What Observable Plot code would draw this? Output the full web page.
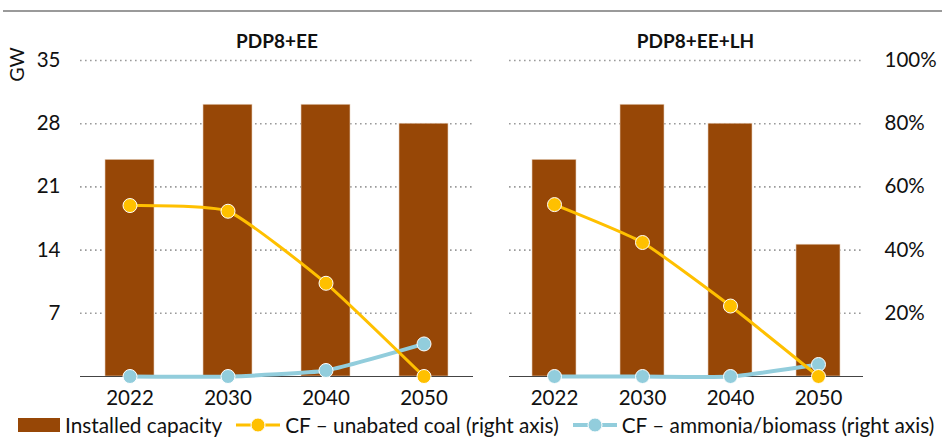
<!DOCTYPE html>
<html><head><meta charset="utf-8">
<script src="https://cdn.jsdelivr.net/npm/d3@7"></script>
<script src="https://cdn.jsdelivr.net/npm/@observablehq/plot@0.6"></script>
<style>
body{margin:0;background:#fff;font-family:Lato,"Open Sans",sans-serif;}
#wrap{position:relative;width:942px;height:438px;overflow:hidden;background:#fff;}
#topline{position:absolute;left:3px;top:10px;width:939px;height:2px;background:#9a9a9a;}
.panel{position:absolute;top:0;}
#legend{position:absolute;left:18px;top:413px;height:24px;display:flex;align-items:center;font-size:20.8px;line-height:22px;color:#111;white-space:nowrap;}
#legend .item{display:flex;align-items:center;}
#legend svg{display:block;}
</style></head><body>
<div id="wrap">
  <div id="topline"></div>
  <div id="p1" class="panel" style="left:0"></div>
  <div id="p2" class="panel" style="left:480px"></div>
  <div id="legend">
    <div class="item"><svg width="42" height="14"><rect x="0" y="0" width="42" height="14" fill="#974706"></rect></svg><span style="margin-left:5px">Installed capacity</span></div>
    <div class="item" style="margin-left:14px"><svg width="44" height="16"><line x1="0" x2="44" y1="8" y2="8" stroke="#FFC000" stroke-width="3"></line><circle cx="22" cy="8" r="7" fill="#FFC000" stroke="#fff" stroke-width="1"></circle></svg><span style="margin-left:5px">CF – unabated coal (right axis)</span></div>
    <div class="item" style="margin-left:14px"><svg width="44" height="16"><line x1="0" x2="44" y1="8" y2="8" stroke="#92CDDC" stroke-width="4"></line><circle cx="22" cy="8" r="7" fill="#92CDDC" stroke="#fff" stroke-width="1"></circle></svg><span style="margin-left:5px">CF – ammonia/biomass (right axis)</span></div>
  </div>
</div>
<script>
const years = ["2022", "2030", "2040", "2050"];
const scenarios = ["PDP8+EE", "PDP8+EE+LH"];
// Installed capacity (GW, left axis)
const capacityEE = [24.0, 30.1, 30.1, 28.0];
const capacityLH = [24.0, 30.1, 28.0, 14.6];
// Capacity factor, unabated coal (% , right axis)
const cfCoalEE = [54.1, 52.3, 29.5, 0];
const cfCoalLH = [54.4, 42.4, 22.3, 0];
// Capacity factor, ammonia/biomass (% , right axis)
const cfAmmEE = [0, 0, 1.9, 10.3];
const cfAmmLH = [0, 0, 0, 3.8];
// Tick labels
const gwTicks = [7, 14, 21, 28, 35];
const pctTicks = [20, 40, 60, 80, 100];

const GW_MAX = 35, PCT_MAX = 100;
const pctToGW = p => p * GW_MAX / PCT_MAX;

const BROWN = "#974706", GOLD = "#FFC000", TEAL = "#92CDDC";
const FONT = "Lato, 'Open Sans', sans-serif";
const SMOOTH = d3.curveCardinal.tension(0.5);

function panel({title, cap, coal, amm, width, marginLeft, marginRight, leftAxis, rightAxis, titleDx}) {
  const bars = years.map((y, i) => ({year: y, gw: cap[i]}));
  const coalD = years.map((y, i) => ({year: y, v: pctToGW(coal[i])}));
  const ammD = years.map((y, i) => ({year: y, v: pctToGW(amm[i])}));
  const marks = [
    Plot.ruleY(gwTicks, {stroke: "#9a9a9a", strokeWidth: 1.6, strokeDasharray: "1.6,3.4"}),
    Plot.barY(bars, {x: "year", y: "gw", fill: BROWN, stroke: "#e8d2bf", strokeWidth: 0.6}),
    Plot.ruleY([0], {stroke: "#444", strokeWidth: 1}),
    Plot.lineY(ammD, {x: "year", y: "v", stroke: TEAL, strokeWidth: 4, curve: SMOOTH}),
    Plot.dot(ammD, {x: "year", y: "v", r: 7, fill: TEAL, stroke: "#fff", strokeWidth: 1}),
    Plot.lineY(coalD, {x: "year", y: "v", stroke: GOLD, strokeWidth: 3, curve: SMOOTH}),
    Plot.dot(coalD, {x: "year", y: "v", r: 7, fill: GOLD, stroke: "#fff", strokeWidth: 1}),
    Plot.axisX({tickSize: 0, tickPadding: 14, fontSize: 20.5, label: null}),
    Plot.text([title], {frameAnchor: "top", dy: -26, dx: titleDx, fontSize: 19, fontWeight: "bold", fill: "#111"})
  ];
  if (leftAxis) {
    marks.push(Plot.axisY(gwTicks, {anchor: "left", tickSize: 0, tickPadding: 20, fontSize: 20.5, label: null}));
    marks.push(Plot.text(["GW"], {frameAnchor: "top-left", dx: -63, dy: 4, rotate: -90, textAnchor: "middle", lineAnchor: "middle", fontSize: 19.5, fill: "#111"}));
  }
  if (rightAxis) {
    marks.push(Plot.axisY(pctTicks.map(pctToGW), {anchor: "right", tickSize: 0, tickPadding: 21, fontSize: 20.5, label: null, textAnchor: "start",
      tickFormat: d => Math.round(d * PCT_MAX / GW_MAX) + "%"}));
  }
  return Plot.plot({
    width, height: 410,
    marginTop: 60, marginBottom: 34, marginLeft, marginRight,
    style: {fontFamily: FONT, color: "#111", background: "transparent", overflow: "visible"},
    x: {domain: years, type: "band", paddingInner: 0.5, paddingOuter: 0.25},
    y: {domain: [0, GW_MAX]},
    marks
  });
}

document.getElementById("p1").append(panel({
  title: scenarios[0], cap: capacityEE, coal: cfCoalEE, amm: cfAmmEE,
  width: 480, marginLeft: 80, marginRight: 7, leftAxis: true, rightAxis: false, titleDx: 0
}));
document.getElementById("p2").append(panel({
  title: scenarios[1], cap: capacityLH, coal: cfCoalLH, amm: cfAmmLH,
  width: 462, marginLeft: 29, marginRight: 79, leftAxis: false, rightAxis: true, titleDx: 9
}));
</script>
</body></html>
